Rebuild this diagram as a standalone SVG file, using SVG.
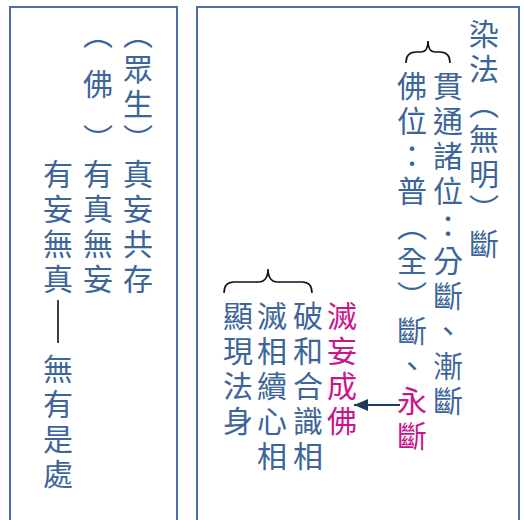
<svg xmlns="http://www.w3.org/2000/svg" width="524" height="520" viewBox="0 0 524 520" lang="zh-TW">
<defs>
<style>
.box{fill:none;stroke:#4a6fa5;stroke-width:2}
.t{font-family:"Noto Sans CJK TC","Noto Sans CJK SC",sans-serif;font-size:30px;fill:#3c659a;writing-mode:vertical-rl;letter-spacing:5px}
.m{fill:#c8168c}
.brace{fill:none;stroke:#111;stroke-width:1.6}
.rule{stroke:#111;stroke-width:1.6}
.conn{stroke:#1f3b5c;stroke-width:2;fill:none}
</style>
<marker id="ah" viewBox="0 0 14 12" refX="14" refY="6" markerWidth="14" markerHeight="12" markerUnits="userSpaceOnUse" orient="auto">
<path d="M0,0 L14,6 L0,12 z" fill="#1f3b5c"/>
</marker>
</defs>

<g id="left-panel">
<rect class="box" x="10" y="7" width="167" height="530"/>
<g id="col-zhongsheng"><text class="t" x="138" y="19">（眾生）真妄共存</text></g>
<g id="col-fo"><text class="t" x="98" y="19"><tspan y="19">（</tspan><tspan y="69">佛</tspan><tspan y="124">）</tspan><tspan y="159">有真無妄</tspan></text></g>
<g id="col-youwang"><text class="t" x="58" y="159">有妄無真</text>
<line class="rule" x1="58" y1="300" x2="58" y2="343"/>
<text class="t" x="58" y="354">無有是處</text></g>
</g>

<g id="right-panel">
<rect class="box" x="197" y="7" width="322" height="530"/>
<g id="col-ranfa"><text class="t" x="484" y="19">染法（無明）斷</text></g>
<g id="col-guantong"><text class="t" x="448" y="71">貫通諸位：分斷、漸斷</text></g>
<g id="col-fowei"><text class="t" x="412" y="71">佛位：普（全）斷、<tspan class="m">永斷</tspan></text></g>
<path id="brace-top" class="brace" d="M406,63 Q406,52 416,52 L421,52 Q428,52 428,41 Q428,52 435,52 L440,52 Q450,52 450,63"/>
<g id="col-miewang"><text class="t m" x="342" y="301">滅妄成佛</text></g>
<g id="col-pohehe"><text class="t" x="308" y="301">破和合識相</text></g>
<g id="col-miexiang"><text class="t" x="272" y="301">滅相續心相</text></g>
<g id="col-xianxian"><text class="t" x="238" y="301">顯現法身</text></g>
<path id="brace-bottom" class="brace" d="M224,293 Q224,282 234,282 L258,282 Q268,282 268,269 Q268,282 278,282 L302,282 Q312,282 312,293"/>
</g>

<g id="connectors">
<line class="conn" x1="400" y1="405" x2="354" y2="405" marker-end="url(#ah)"/>
</g>
</svg>
